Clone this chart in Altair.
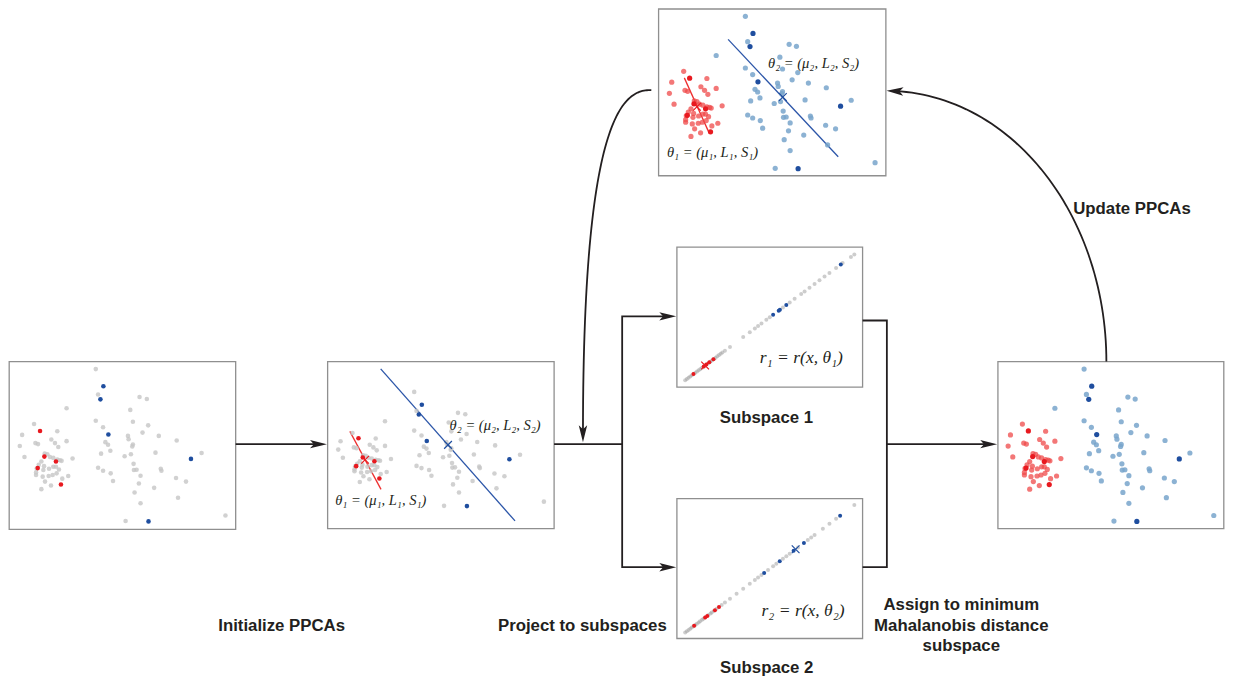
import math
import altair as alt
import pandas as pd

# ---------------- data ----------------
# scatter sample in data units; cluster 1 = left group, cluster 2 = right group
c1_x = [92, 162, 56, 144, 155, 96, 104, 190, 49, 165, 63, 124, 132, 140, 150, 162, 170, 175, 208, 114,
        106, 100, 98, 98, 122, 120, 137, 150, 158, 167, 160, 148, 136, 118, 195, 125, 177, 143, 114]
c1_y = [200, 222, 233, 247, 258, 258, 261, 252, 267, 270, 300, 290, 292, 300, 303, 308, 310, 312, 305, 314,
        324, 335, 347, 355, 328, 340, 336, 330, 330, 338, 350, 355, 358, 360, 358, 375, 366, 387, 398]
c2_x = [278, 285, 410, 432, 190, 382, 278, 390, 300, 436, 419, 375, 377, 468, 522, 307, 315, 390, 388, 322,
        294, 458, 597, 365, 384, 392, 285, 300, 393, 401, 474, 476, 323, 413, 520, 330, 550, 408, 454, 395,
        526, 413, 368, 669]
c2_y = [33, 110, 118, 124, 152, 157, 190, 193, 210, 204, 226, 236, 246, 236, 250, 255, 263, 262, 268, 281,
        290, 287, 288, 298, 292, 321, 333, 342, 340, 339, 336, 342, 350, 357, 364, 373, 375, 381, 394, 408,
        424, 441, 495, 478]
seed1_x = [110, 123, 158, 103, 173]
seed1_y = [221, 299, 314, 334, 384]
seed2_x = [301, 292, 316, 565, 437]
seed2_y = [85, 125, 232, 306, 496]

# principal axes and means (data units)
mid_axis1 = [(84, 193), (178, 428)]
mid_axis2 = [(177, -60), (582, 556)]
mid_mean1 = (130, 308)
mid_mean2 = (380, 248)
top_axis1 = [(94, 220), (169, 388)]
top_axis2 = [(226, 103), (558, 460)]
top_mean1 = (132, 308)
top_mean2 = (391, 278)

# projections onto each subspace (position along the subspace, 0..1)
s1_gray = [0.0, 0.01, 0.02, 0.03, 0.04, 0.05, 0.06, 0.07, 0.08, 0.09, 0.10, 0.11, 0.12, 0.13, 0.14, 0.15,
           0.16, 0.17, 0.18, 0.19, 0.20, 0.21, 0.22, 0.235, 0.265, 0.343, 0.382, 0.412, 0.431, 0.451, 0.48,
           0.50, 0.578, 0.618, 0.647, 0.686, 0.706, 0.735, 0.765, 0.794, 0.824, 0.853, 0.892, 0.931, 0.98, 1.0]
s1_red = [0.049, 0.11, 0.125, 0.143, 0.167]
s1_blue = [0.52, 0.553, 0.56, 0.598, 0.92]
s1_mean = 0.118
s2_gray = [0.0, 0.01, 0.02, 0.03, 0.039, 0.05, 0.06, 0.069, 0.08, 0.088, 0.10, 0.108, 0.12, 0.137, 0.15,
           0.157, 0.17, 0.186, 0.216, 0.235, 0.265, 0.304, 0.343, 0.382, 0.412, 0.431, 0.451, 0.49, 0.52,
           0.539, 0.578, 0.598, 0.618, 0.667, 0.725, 0.745, 0.765, 0.814, 0.853, 0.892, 1.0]
s2_red = [0.053, 0.118, 0.131, 0.176, 0.2]
s2_blue = [0.467, 0.559, 0.641, 0.702, 0.916]
s2_mean = 0.653

bold_labels = ["Initialize PPCAs", "Project to subspaces", "Subspace 1", "Subspace 2",
               "Assign to minimum", "Mahalanobis distance", "subspace", "Update PPCAs"]
theta1 = "θ₁ = (μ₁, L₁, S₁)"
theta2 = "θ₂ = (μ₂, L₂, S₂)"
r1 = "r₁ = r(x, θ₁)"
r2 = "r₂ = r(x, θ₂)"

# ---------------- layout (page pixels) ----------------
boxes = {
    "init": (5.7, 358.3, 233.3, 528.3),
    "mid": (325.7, 358.3, 553.3, 527.7),
    "top": (658.3, 1.0, 886.7, 170.0),
    "sub1": (676.7, 242.3, 863.3, 384.3),
    "sub2": (676.7, 497.3, 863.3, 639.0),
    "post": (999.3, 358.3, 1226.3, 527.7),
}
tf = {
    "init": dict(px=5.7, py=358.3, ky=1.0, cy=0.0),
    "mid": dict(px=325.7, py=358.3, ky=0.75, cy=25.0),
    "top": dict(px=658.5, py=0.8, ky=1.0, cy=0.0),
    "post": dict(px=998.9, py=358.3, ky=1.0, cy=0.0),
}
sub_lines = {"sub1": ((685, 377.3), (855, 249.7)), "sub2": ((685, 633.0), (855, 503.7))}

GRAY, RED, BLUE = "#c6c6c6", "#e8191f", "#1f4e9f"
LRED, LBLUE = "#ef4a4a", "#78a4cb"
INK = "#231f20"


def to_page(zx, zy, p):
    t = tf[p]
    return t["px"] + (zx - 17) / 3.0, t["py"] + t["ky"] * (zy - 10) / 3.0 + t["cy"]


pts = []
for p in ["init", "mid", "top", "post"]:
    post = p in ("top", "post")
    sz = 27 if post else 21
    for xs, ys, col, op in [
        (c1_x, c1_y, LRED if post else GRAY, 0.75 if post else 0.8),
        (c2_x, c2_y, LBLUE if post else GRAY, 0.85 if post else 0.8),
        (seed1_x, seed1_y, RED, 1.0),
        (seed2_x, seed2_y, BLUE, 1.0),
    ]:
        for a, b in zip(xs, ys):
            X, Y = to_page(a, b, p)
            pts.append(dict(x=X, y=Y, col=col, op=op, sz=sz))

for s, g, rr, bb in [("sub1", s1_gray, s1_red, s1_blue), ("sub2", s2_gray, s2_red, s2_blue)]:
    (x0, y0), (x1, y1) = sub_lines[s]
    for ts, col, op in [(g, "#a4a4a4", 0.55), (rr, RED, 1.0), (bb, BLUE, 1.0)]:
        for t in ts:
            pts.append(dict(x=x0 + t * (x1 - x0), y=y0 + t * (y1 - y0), col=col, op=op, sz=16))
pts = pd.DataFrame(pts)

# model lines and connectors
lines = []


def add_line(name, coords, col, w):
    for i, (a, b) in enumerate(coords):
        lines.append(dict(seg=name, i=i, x=a, y=b, col=col, w=w))


for p, ax1, ax2 in [("mid", mid_axis1, mid_axis2), ("top", top_axis1, top_axis2)]:
    add_line(p + "a1", [to_page(a, b, p) for a, b in ax1], "#ee3030", 1.3)
    add_line(p + "a2", [to_page(a, b, p) for a, b in ax2], "#2b55a8", 1.3)

CW = 1.8
add_line("A", [(233.3, 442), (316, 442)], INK, CW)
add_line("B1", [(553.3, 442), (621.7, 442)], INK, CW)
add_line("B2", [(667.5, 312.5), (621.7, 312.5), (621.7, 566.7), (667.5, 566.7)], INK, CW)
add_line("C", [(863.3, 316.7), (887.7, 316.7), (887.7, 566.7), (863.3, 566.7)], INK, CW)
add_line("C2", [(887.7, 442), (990, 442)], INK, CW)

# curved arrow: top panel -> projection step (cubic Bezier)
P = [(651, 83.3), (622, 82), (582.3, 112), (582.3, 431)]
bez = []
for k in range(61):
    t = k / 60
    c = [(1 - t) ** 3, 3 * (1 - t) ** 2 * t, 3 * (1 - t) * t ** 2, t ** 3]
    bez.append((sum(c[j] * P[j][0] for j in range(4)), sum(c[j] * P[j][1] for j in range(4))))
add_line("D", bez, INK, CW)

# curved arrow: posterior -> top panel (elliptic arc)
cx, cy, rx, ry = 887.3, 358.3, 221.0, 274.3
phi_end = math.acos(8.7 / rx)
arc = [(cx + rx * math.cos(phi_end * k / 60), cy - ry * math.sin(phi_end * k / 60)) for k in range(61)]
add_line("E", arc, INK, CW)
lines = pd.DataFrame(lines)

heads = pd.DataFrame([
    dict(x=316.5, y=442, ang=0), dict(x=667.5, y=312.5, ang=0), dict(x=667.5, y=566.7, ang=0),
    dict(x=990, y=442, ang=0), dict(x=582.3, y=431.5, ang=90), dict(x=895.8, y=84.2, ang=183),
])

cross = []
for p, m, col in [("mid", mid_mean1, RED), ("mid", mid_mean2, BLUE), ("top", top_mean1, RED), ("top", top_mean2, BLUE)]:
    X, Y = to_page(m[0], m[1], p)
    cross.append(dict(x=X, y=Y, col=col))
for s, t, col in [("sub1", s1_mean, RED), ("sub2", s2_mean, BLUE)]:
    (x0, y0), (x1, y1) = sub_lines[s]
    cross.append(dict(x=x0 + t * (x1 - x0), y=y0 + t * (y1 - y0), col=col))
cross = pd.DataFrame(cross)

box_df = pd.DataFrame([dict(x=v[0], y=v[1], x1=v[2], y1=v[3]) for v in boxes.values()])

bold_pos = [(279.5, 626, "center"), (581.7, 626, "center"), (766.7, 416, "center"), (767, 669, "center"),
            (962.5, 605.5, "center"), (962.5, 626.5, "center"), (962.5, 647, "center"), (1075, 203.5, "left")]
bold_df = pd.DataFrame([dict(text=t, x=p[0], y=p[1], al=p[2]) for t, p in zip(bold_labels, bold_pos)])

math_df = pd.DataFrame([
    dict(text=theta2, x=448.3, y=423.5, fs=14.5), dict(text=theta1, x=333.3, y=500, fs=14.5),
    dict(text=theta2, x=768.3, y=56.5, fs=14.5), dict(text=theta1, x=666.7, y=146.5, fs=14.5),
    dict(text=r1, x=760, y=355, fs=17.5), dict(text=r2, x=761.7, y=611.5, fs=17.5),
])

# ---------------- chart ----------------
XS = alt.Scale(domain=[4.5, 1227.5], nice=False, zero=False)
YS = alt.Scale(domain=[0, 678], nice=False, zero=False, reverse=True)


def X(f="x"):
    return alt.X(f + ":Q", scale=XS, axis=None)


def Y(f="y"):
    return alt.Y(f + ":Q", scale=YS, axis=None)


box_layer = alt.Chart(box_df).mark_rect(fill="white", stroke="#8f8f8f", strokeWidth=1.3).encode(
    x=X(), x2="x1:Q", y=Y(), y2="y1:Q")

line_layer = alt.Chart(lines).mark_line().encode(
    x=X(), y=Y(), order="i:Q", detail="seg:N",
    color=alt.Color("col:N", scale=None), strokeWidth=alt.StrokeWidth("w:Q", scale=None))

head_layer = alt.Chart(heads).mark_point(
    shape="M1,0L-1,-0.5L-0.55,0L-1,0.5Z", filled=True, color=INK, opacity=1, size=285, strokeWidth=0
).encode(x=X(), y=Y(), angle=alt.Angle("ang:Q", scale=None))

pt_layer = alt.Chart(pts).mark_circle(strokeWidth=0).encode(
    x=X(), y=Y(), color=alt.Color("col:N", scale=None),
    opacity=alt.Opacity("op:Q", scale=None), size=alt.Size("sz:Q", scale=None))

cross_layer = alt.Chart(cross).mark_point(
    shape="M-1,-1L1,1M-1,1L1,-1", filled=False, opacity=1, size=60, strokeWidth=1.2
).encode(x=X(), y=Y(), color=alt.Color("col:N", scale=None))

bold_c = alt.Chart(bold_df[bold_df.al == "center"]).mark_text(
    font="Liberation Sans", fontWeight="bold", fontSize=16.8, color=INK, align="center", baseline="middle"
).encode(x=X(), y=Y(), text="text:N")
bold_l = alt.Chart(bold_df[bold_df.al == "left"]).mark_text(
    font="Liberation Sans", fontWeight="bold", fontSize=16.8, color=INK, align="left", baseline="middle"
).encode(x=X(), y=Y(), text="text:N")

math_layer = alt.Chart(math_df).mark_text(
    font="Liberation Serif", fontStyle="italic", color=INK, align="left", baseline="middle"
).encode(x=X(), y=Y(), text="text:N", size=alt.Size("fs:Q", scale=None))

chart = alt.layer(
    box_layer, line_layer, head_layer, pt_layer, cross_layer, bold_c, bold_l, math_layer
).properties(
    width=1217, height=669, padding=0, autosize=alt.AutoSizeParams(type="none")
).configure_view(strokeWidth=0)

chart.save("out.html", embed_options={"renderer": "svg", "actions": False})
